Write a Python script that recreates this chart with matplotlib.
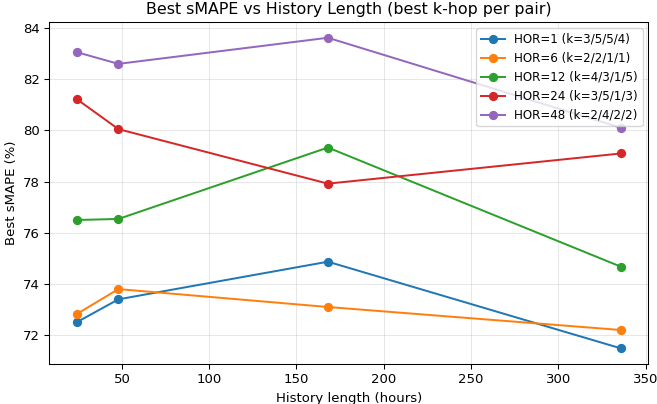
import matplotlib
matplotlib.use("Agg")
import matplotlib.pyplot as plt

history = [24, 48, 168, 336]
labels = ["HOR=1 (k=3/5/5/4)", "HOR=6 (k=2/2/1/1)", "HOR=12 (k=4/3/1/5)",
          "HOR=24 (k=3/5/1/3)", "HOR=48 (k=2/4/2/2)"]
hor1 = [72.5, 73.4, 74.87, 71.48]
hor6 = [72.82, 73.8, 73.1, 72.2]
hor12 = [76.5, 76.54, 79.33, 74.67]
hor24 = [81.23, 80.05, 77.92, 79.1]
hor48 = [83.06, 82.6, 83.62, 80.1]

DPI = 95
fig, ax = plt.subplots(figsize=(657 / DPI, 404 / DPI), dpi=DPI)
fig.subplots_adjust(left=0.075, right=0.987, top=0.945, bottom=0.099)

for vals, lab in zip([hor1, hor6, hor12, hor24, hor48], labels):
    ax.plot(history, vals, marker='o', label=lab)

ax.set_xlabel("History length (hours)")
ax.set_ylabel("Best sMAPE (%)")
ax.set_title("Best sMAPE vs History Length (best k-hop per pair)")
ax.legend(loc="upper right", fontsize=9)
ax.grid(alpha=0.3)

fig.savefig("out.png", dpi=DPI)
